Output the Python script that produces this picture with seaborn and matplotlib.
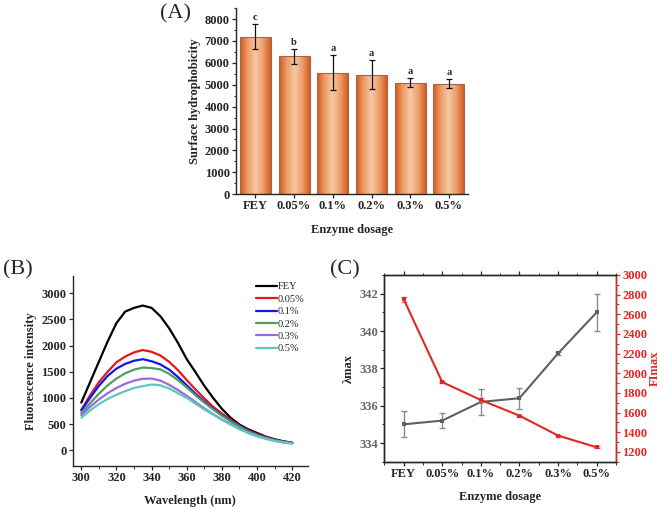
import numpy as np
import pandas as pd
import matplotlib
matplotlib.use('Agg')
import matplotlib.pyplot as plt
import seaborn as sns
from matplotlib.colors import LinearSegmentedColormap
from matplotlib.ticker import MultipleLocator

# ---- data ----
dosages = ['FEY', '0.05%', '0.1%', '0.2%', '0.3%', '0.5%']
hydro = [7200, 6300, 5550, 5450, 5100, 5050]
hydro_err = [570, 350, 800, 660, 200, 200]
hydro_letters = ['c', 'b', 'a', 'a', 'a', 'a']

wavelength = [300, 305, 310, 315, 320, 325, 330, 335, 340, 345, 350, 355, 360,
              365, 370, 375, 380, 385, 390, 395, 400, 405, 410, 415, 420]
fl_fey = [910, 1300, 1690, 2080, 2430, 2650, 2720, 2765, 2720, 2560, 2330, 2050, 1740,
          1490, 1230, 1000, 790, 620, 490, 400, 330, 260, 210, 170, 140]
fl_005 = [770, 1050, 1300, 1500, 1680, 1790, 1870, 1915, 1880, 1810, 1690, 1530, 1340,
          1160, 990, 830, 700, 580, 470, 380, 310, 250, 200, 170, 145]
fl_01 = [760, 1000, 1230, 1420, 1560, 1650, 1710, 1740, 1700, 1640, 1540, 1400, 1240,
         1080, 930, 790, 670, 560, 460, 370, 300, 240, 195, 165, 140]
fl_02 = [710, 900, 1080, 1240, 1370, 1470, 1540, 1580, 1570, 1545, 1460, 1340, 1200,
         1050, 910, 780, 660, 550, 450, 360, 290, 235, 190, 160, 135]
fl_03 = [670, 830, 970, 1090, 1190, 1270, 1330, 1365, 1370, 1330, 1250, 1150, 1040,
         920, 800, 690, 590, 500, 410, 330, 270, 220, 180, 150, 130]
fl_05 = [620, 760, 880, 980, 1060, 1130, 1190, 1225, 1255, 1240, 1180, 1090, 1000,
         890, 780, 680, 580, 490, 400, 330, 270, 220, 180, 150, 130]
fl_colors = ['#000000', '#E8161B', '#1414F0', '#4F9E5C', '#9A6ADB', '#5CC9BE']

lam_max = [335.0, 335.2, 336.2, 336.4, 338.8, 341.0]
lam_err = [0.7, 0.42, 0.7, 0.57, 0.1, 1.0]
fi_max = [2755, 1910, 1728, 1568, 1366, 1246]
fi_err = [25, 10, 20, 10, 10, 10]

sns.set_theme(style='ticks')
plt.rcParams['font.family'] = ['Liberation Serif', 'DejaVu Serif']

fig = plt.figure(figsize=(6.61, 5.07), dpi=100)
bold = dict(fontweight='bold', fontsize=9)

# ---- (A) surface hydrophobicity ----
ax_a = fig.add_axes([0.357, 0.617, 0.3515, 0.367])
df_a = pd.DataFrame({'dosage': dosages, 'value': hydro})
sns.barplot(data=df_a, x='dosage', y='value', ax=ax_a, width=0.8,
            color='#E07A3A', edgecolor='#9a6a55', linewidth=0.8)
cmap = LinearSegmentedColormap.from_list('bar', ['#D0581A', '#EE9C66', '#F6C8A4', '#EE9E6A', '#D45C1D'])
prof = np.linspace(0, 1, 256)[None, :]
for patch in ax_a.patches:
    x0, y0 = patch.get_x(), patch.get_y()
    w, h = patch.get_width(), patch.get_height()
    im = ax_a.imshow(prof, extent=[x0, x0 + w, y0, y0 + h], aspect='auto',
                     cmap=cmap, zorder=patch.get_zorder() + 0.1)
    im.set_clip_path(patch)
    patch.set_facecolor('none')
    patch.set_zorder(patch.get_zorder() + 0.2)
pos = np.arange(len(dosages))
ax_a.errorbar(pos, hydro, yerr=hydro_err, fmt='none', ecolor='#111111',
              elinewidth=0.9, capsize=2.5, capthick=0.9, zorder=5)
for i, (v, e, t) in enumerate(zip(hydro, hydro_err, hydro_letters)):
    ax_a.annotate(t, (i, v + e), xytext=(0, 1.5), textcoords='offset points',
                  ha='center', va='bottom', fontsize=7.5, fontweight='bold')
ax_a.set_xlim(-0.5, 5.5)
ax_a.set_ylim(0, 8500)
ax_a.yaxis.set_major_locator(MultipleLocator(1000))
ax_a.yaxis.set_minor_locator(MultipleLocator(500))
ax_a.set_xlabel('Enzyme dosage', labelpad=8, **bold)
ax_a.set_ylabel('Surface hydrophobicity', labelpad=3, **bold)
sns.despine(ax=ax_a)

# ---- (B) fluorescence spectra ----
ax_b = fig.add_axes([0.1097, 0.081, 0.3563, 0.3747])
fl_all = [fl_fey, fl_005, fl_01, fl_02, fl_03, fl_05]
df_b = pd.DataFrame({
    'Wavelength': np.tile(wavelength, len(dosages)),
    'Intensity': np.concatenate(fl_all),
    'Sample': np.repeat(dosages, len(wavelength)),
})
sns.lineplot(data=df_b, x='Wavelength', y='Intensity', hue='Sample',
             palette=fl_colors, linewidth=1.6, ax=ax_b)
ax_b.set_xlim(295, 429)
ax_b.set_ylim(-300, 3330)
ax_b.xaxis.set_major_locator(MultipleLocator(20))
ax_b.xaxis.set_minor_locator(MultipleLocator(10))
ax_b.yaxis.set_major_locator(MultipleLocator(500))
ax_b.set_xlabel('Wavelength (nm)', labelpad=8, **bold)
ax_b.set_ylabel('Fluorescence intensity', labelpad=3, **bold)
ax_b.legend(title=None, frameon=False, loc='upper left', bbox_to_anchor=(0.76, 0.99),
            fontsize=7.5, handlelength=2.0, handletextpad=0.15, labelspacing=0.3,
            borderaxespad=0)
sns.despine(ax=ax_b)

# ---- (C) lambda max / FI max ----
ax_c = fig.add_axes([0.5814, 0.0894, 0.3505, 0.3682])
ax_r = ax_c.twinx()
df_c = pd.DataFrame({'pos': pos, 'lam': lam_max, 'fi': fi_max})
grey = '#5f5f5f'
red = '#DE2A26'
ax_c.errorbar(pos, lam_max, yerr=lam_err, fmt='none', ecolor='#8a8a8a',
              elinewidth=1.0, capsize=2.5, capthick=1.0, zorder=3)
sns.lineplot(data=df_c, x='pos', y='lam', ax=ax_c, color=grey, linewidth=1.5,
             marker='s', markersize=3.5, markeredgewidth=0, zorder=4)
ax_r.errorbar(pos, fi_max, yerr=fi_err, fmt='none', ecolor='#E07070',
              elinewidth=1.0, capsize=2.5, capthick=1.0, zorder=3)
sns.lineplot(data=df_c, x='pos', y='fi', ax=ax_r, color=red, linewidth=1.5,
             marker='s', markersize=3.5, markeredgewidth=0, zorder=4)
ax_c.set_xlim(-0.5, 5.5)
ax_c.set_ylim(333, 343)
ax_r.set_ylim(1100, 3000)
ax_c.set_xticks(pos)
ax_c.set_xticklabels(dosages)
ax_c.xaxis.set_minor_locator(MultipleLocator(0.5))
ax_c.yaxis.set_major_locator(MultipleLocator(2))
ax_c.yaxis.set_minor_locator(MultipleLocator(1))
ax_r.yaxis.set_major_locator(MultipleLocator(200))
ax_r.yaxis.set_minor_locator(MultipleLocator(100))
ax_c.tick_params(axis='y', labelcolor='#666666')
ax_r.tick_params(axis='y', which='both', colors=red)
ax_c.set_xlabel('Enzyme dosage', labelpad=8, **bold)
ax_c.set_ylabel('λmax', labelpad=3, **bold)
ax_r.set_ylabel('FImax', labelpad=1, color=red, **bold)

# ---- common tick styling ----
for ax in (ax_a, ax_b, ax_c, ax_r):
    ax.tick_params(which='major', length=3, width=0.9, labelsize=9, pad=1.5)
    ax.tick_params(which='minor', length=1.8, width=0.7)
    for lab in ax.get_xticklabels() + ax.get_yticklabels():
        lab.set_fontweight('bold')
    for sp in ax.spines.values():
        sp.set_linewidth(1.0)
ax_r.spines['right'].set_color(red)
ax_c.tick_params(axis='x', which='both', top=True, direction='out')

fig.text(0.265, 0.973, '(A)', ha='center', va='center', fontsize=16)
fig.text(0.027, 0.467, '(B)', ha='center', va='center', fontsize=16)
fig.text(0.522, 0.467, '(C)', ha='center', va='center', fontsize=16)

fig.savefig('out.png', dpi=100)
plt.close(fig)
